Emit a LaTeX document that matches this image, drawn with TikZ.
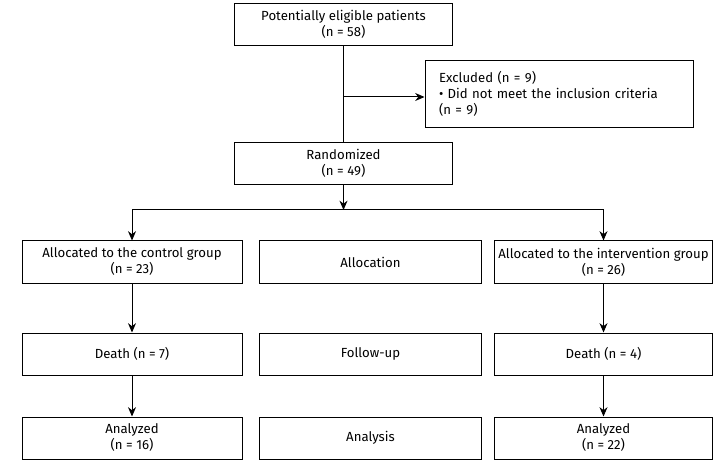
\documentclass[tikz,border=0pt]{standalone}
\usepackage{fontspec}
\setmainfont{Fira Sans}
\usetikzlibrary{arrows.meta}
\tikzset{
	box/.style={draw, line width=0.75pt, rectangle, align=center, inner sep=0pt, minimum height=31.5pt, font=\fontsize{9.9}{12}\selectfont},
	flow/.style={line width=0.75pt, -{Stealth[length=7pt,width=6pt]}},
}

\begin{document}
\begin{tikzpicture}[x=0.75pt,y=0.75pt,yscale=-1,xscale=1]
		\useasboundingbox (0,0) rectangle (724,470);
		% enrolment
		\draw (343.5,24.5) node [box, minimum width=164pt] (elig) {Potentially eligible patients\\(n = 58)};
		\draw (559,94) node [box, minimum width=201pt, minimum height=50pt, text width=180pt, align=left] (excl) {Excluded (n = 9)\\\textbullet{} Did not meet the inclusion criteria\\(n = 9)};
		\draw (343.5,163.5) node [box, minimum width=164pt] (rand) {Randomized\\(n = 49)};
		% allocation
		\draw (132,262) node [box, minimum width=165pt] (ctrl) {Allocated to the control group\\(n = 23)};
		\draw (370.5,262) node [box, minimum width=166pt] (alloc) {Allocation};
		\draw (603.5,262) node [box, minimum width=164pt] (intv) {Allocated to the intervention group\\(n = 26)};
		% follow-up
		\draw (132,354) node [box, minimum width=165pt] (dctrl) {Death (n = 7)};
		\draw (370.5,354) node [box, minimum width=166pt] (follow) {Follow-up};
		\draw (603.5,354) node [box, minimum width=164pt] (dintv) {Death (n = 4)};
		% analysis
		\draw (132,438) node [box, minimum width=165pt] (actrl) {Analyzed\\(n = 16)};
		\draw (370.5,438) node [box, minimum width=166pt] (analysis) {Analysis};
		\draw (603.5,438) node [box, minimum width=164pt] (aintv) {Analyzed\\(n = 22)};

		\coordinate (split) at (343.5,97);
		\coordinate (branch) at (343.5,210);
		\draw [line width=0.75pt] (elig.south) -- (rand.north);
		\draw [flow] (split) -- (split -| excl.west);
		\draw [flow] (rand.south) -- (branch);
		\draw [line width=0.75pt] (branch -| ctrl.north) -- (branch -| intv.north);
		\draw [flow] (branch -| ctrl.north) -- (ctrl.north);
		\draw [flow] (branch -| intv.north) -- (intv.north);
		\draw [flow] (ctrl) -- (dctrl);
		\draw [flow] (dctrl) -- (actrl);
		\draw [flow] (intv) -- (dintv);
		\draw [flow] (dintv) -- (aintv);
\end{tikzpicture}
\end{document}
